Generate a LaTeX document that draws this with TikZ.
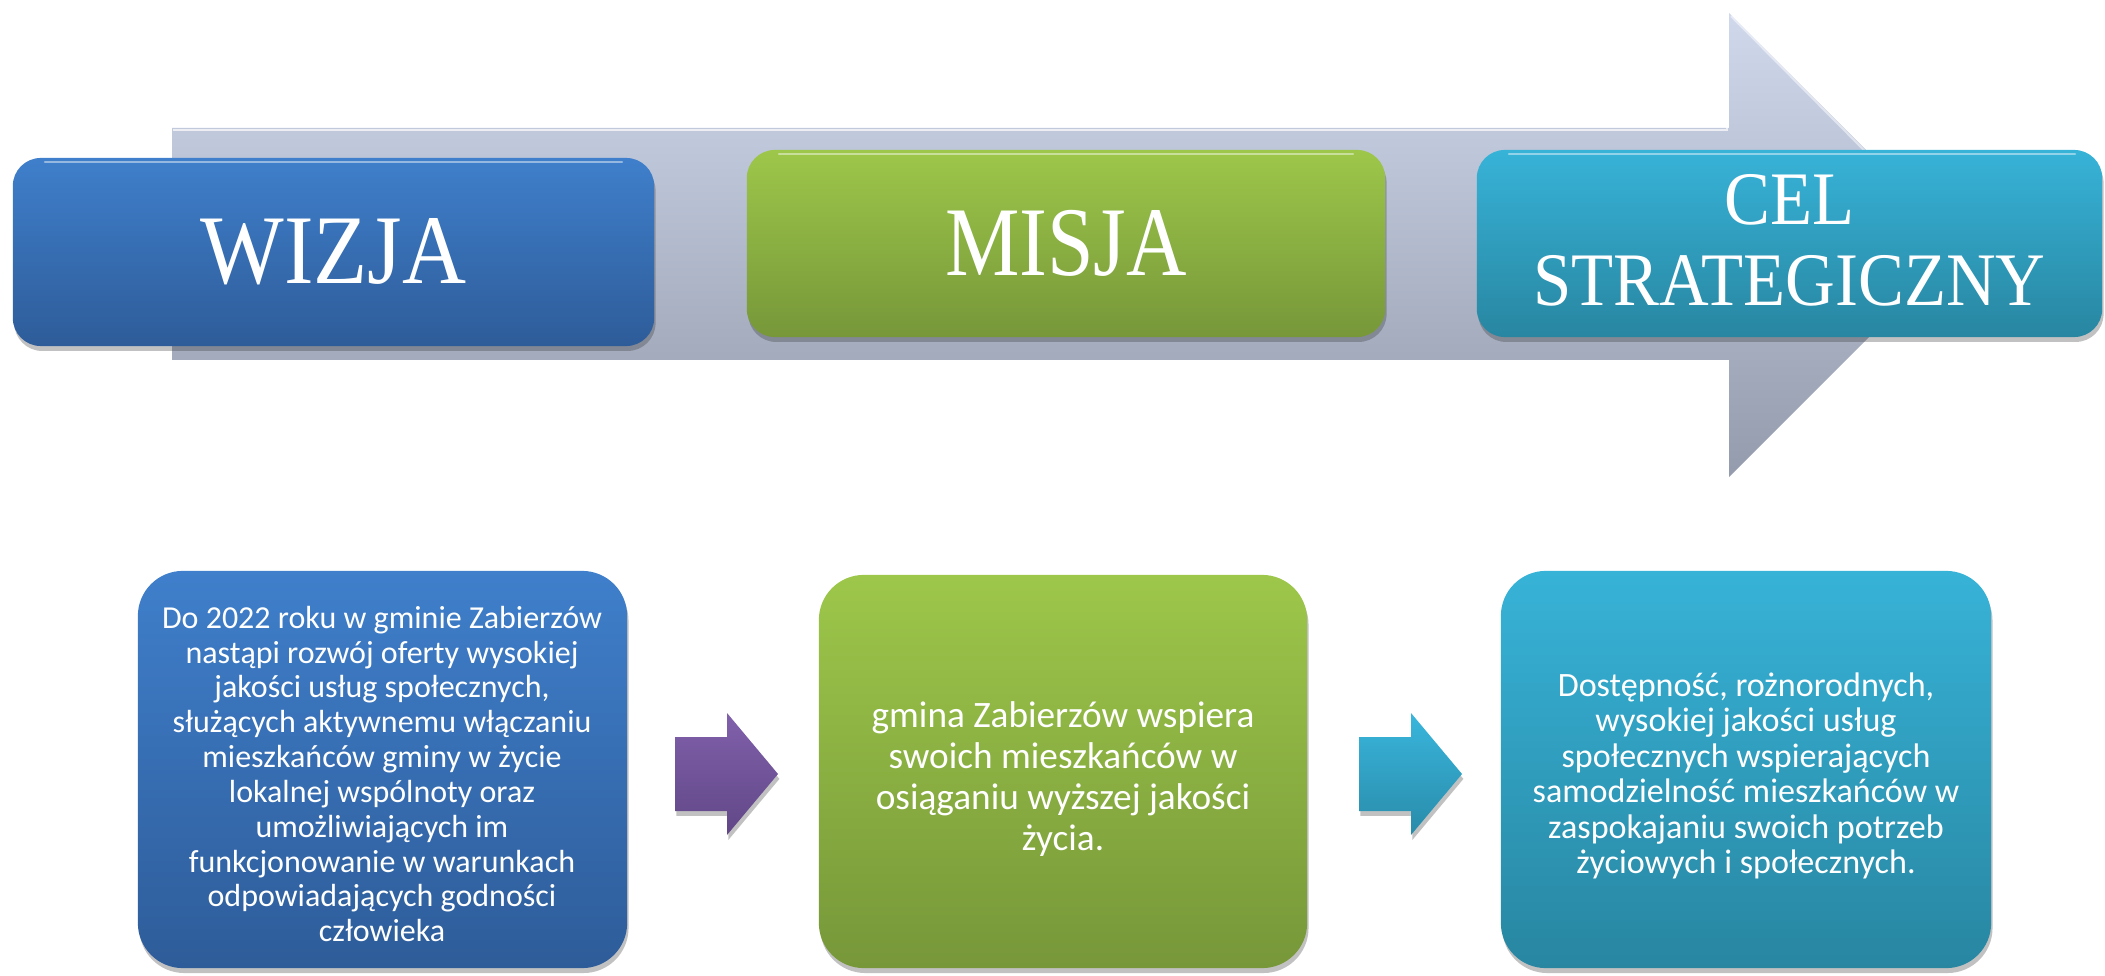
\documentclass[tikz,border=0pt]{standalone}
\usepackage{fontspec}
\setmainfont{Carlito}
\newfontfamily\titlefont{Liberation Serif}
\usetikzlibrary{shadows}
\definecolor{bluetop}{HTML}{3F7FCB}
\definecolor{bluebot}{HTML}{2E5C99}
\definecolor{greentop}{HTML}{9DC74A}
\definecolor{greenbot}{HTML}{779739}
\definecolor{cyantop}{HTML}{37B3D8}
\definecolor{cyanbot}{HTML}{2886A1}
\definecolor{arrowtop}{HTML}{D0D8EC}
\definecolor{arrowbot}{HTML}{939BAC}
\definecolor{purptop}{HTML}{8060AB}
\definecolor{purpbot}{HTML}{614787}
\definecolor{smcyantop}{HTML}{39B6DC}
\definecolor{smcyanbot}{HTML}{298BAA}
\begin{document}
\begin{tikzpicture}[x=0.01cm,y=-0.01cm,
  shadowed/.style={drop shadow={shadow xshift=0.4pt, shadow yshift=-1.4pt, opacity=0.3, fill=black!80}},
  titlebox/.style={shadowed, rounded corners=0.28cm, inner sep=0pt, text=white, align=center},
  textbox/.style={shadowed, rounded corners=0.45cm, inner sep=0pt},
  bodytext/.style={text=white, align=center, inner sep=0pt},
  gloss/.style={white, opacity=0.45, line width=0.7pt, line cap=round}]
\useasboundingbox (0,0) rectangle (2105,976);

% big background arrow
\shade[top color=arrowtop, bottom color=arrowbot]
  (172,128) -- (1729,128) -- (1729,13) -- (1961,245) -- (1729,477) -- (1729,360) -- (172,360) -- cycle;
\draw[white, opacity=0.7, line width=0.8pt] (173,130) -- (1727,130) -- (1727,20);
\draw[white, opacity=0.5, line width=0.6pt] (1731,16) -- (1958,245);

% top title boxes
\node[titlebox, top color=bluetop, bottom color=bluebot, minimum width=6.41cm, minimum height=1.88cm]
  (wizja) at (333.5,252) {\titlefont\fontsize{28}{30}\selectfont\scalebox{0.9}[1]{WIZJA}};
\node[titlebox, top color=greentop, bottom color=greenbot, minimum width=6.38cm, minimum height=1.87cm]
  (misja) at (1066,243.5) {\titlefont\fontsize{28}{30}\selectfont\scalebox{0.85}[1]{MISJA}};
\node[titlebox, top color=cyantop, bottom color=cyanbot, minimum width=6.25cm, minimum height=1.87cm]
  (cel) at (1789.5,243.5) {};
\node[text=white, inner sep=0pt] (celtitle) at (1789.5,249) {\titlefont\fontsize{21.5}{23}\selectfont\scalebox{0.91}[1]{\begin{tabular}{@{}c@{}}CEL\\STRATEGICZNY\end{tabular}}};

% gloss highlights on title boxes
\draw[gloss] (45,162) -- (622,162);
\draw[gloss] (779,154) -- (1353,154);
\draw[gloss] (1509,154) -- (2075,154);

% bottom boxes
\node[textbox, top color=bluetop, bottom color=bluebot, minimum width=4.89cm, minimum height=3.97cm]
  (wizjabox) at (382.5,769.5) {};
\node[textbox, top color=greentop, bottom color=greenbot, minimum width=4.88cm, minimum height=3.93cm]
  (misjabox) at (1063,771.5) {};
\node[textbox, top color=cyantop, bottom color=cyanbot, minimum width=4.90cm, minimum height=3.97cm]
  (celbox) at (1746,769.5) {};

\node[bodytext, font=\fontsize{9.1}{9.9}\selectfont] (wizjatext) at (382,774) {Do 2022 roku w gminie Zabierzów\\
nastąpi rozwój oferty wysokiej\\
jakości usług społecznych,\\
służących aktywnemu włączaniu\\
mieszkańców gminy w życie\\
lokalnej wspólnoty oraz\\
umożliwiających im\\
funkcjonowanie w warunkach\\
odpowiadających godności\\
człowieka};

\node[bodytext, font=\fontsize{10.6}{11.7}\selectfont] (misjatext) at (1063,779) {gmina Zabierzów wspiera\\
swoich mieszkańców w\\
osiąganiu wyższej jakości\\
życia.};

\node[bodytext, font=\fontsize{9.7}{10.1}\selectfont] (celtext) at (1746,776) {Dostępność, rożnorodnych,\\
wysokiej jakości usług\\
społecznych wspierających\\
samodzielność mieszkańców w\\
zaspokajaniu swoich potrzeb\\
życiowych i społecznych.};

% small block arrows
\shade[top color=purptop, bottom color=purpbot, shadowed]
  (675,737) -- (727,737) -- (727,713) -- (778,774) -- (727,835) -- (727,811) -- (675,811) -- cycle;
\shade[top color=smcyantop, bottom color=smcyanbot, shadowed]
  (1359,737) -- (1411,737) -- (1411,713) -- (1462,774) -- (1411,835) -- (1411,811) -- (1359,811) -- cycle;
\end{tikzpicture}
\end{document}
